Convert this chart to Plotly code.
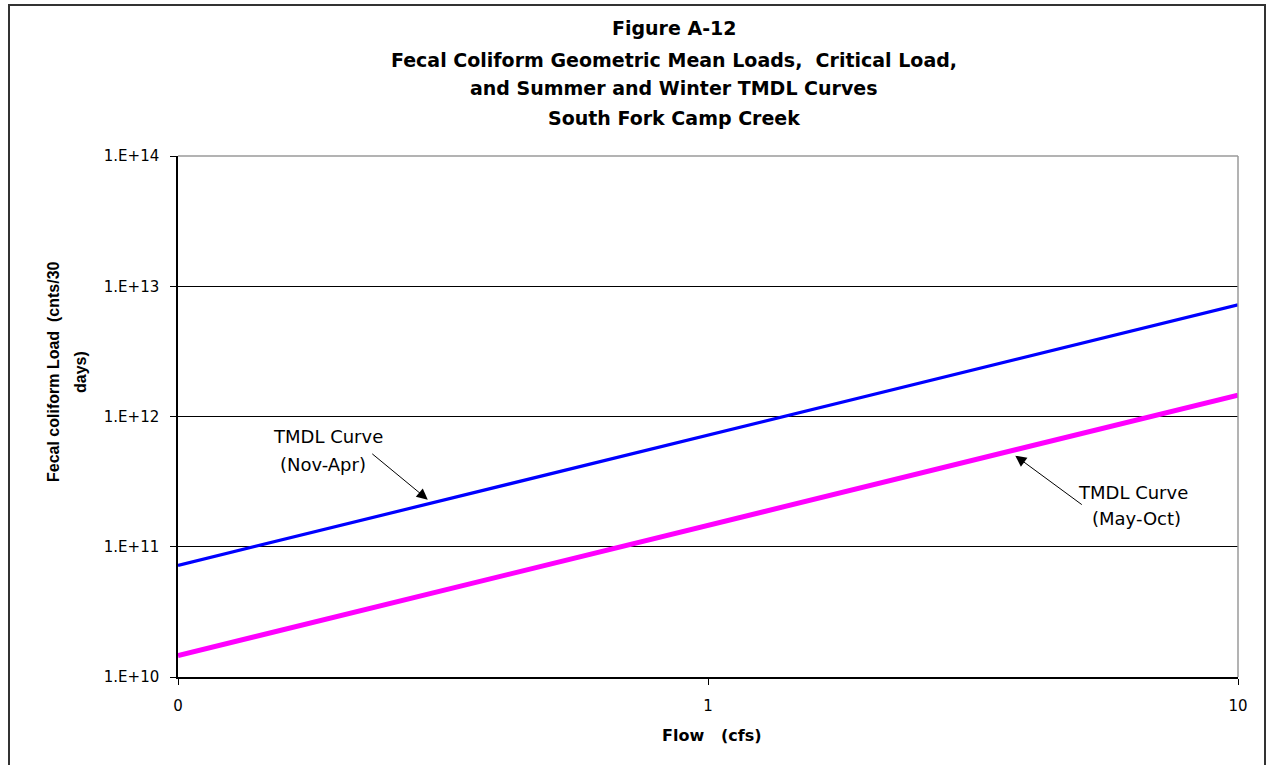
import math
import plotly.graph_objects as go

# Flow (cfs) and TMDL loads (counts / 30 days)
flow_cfs = [0.1, 1, 10]
tmdl_winter = [7.2e10, 7.2e11, 7.2e12]   # Nov-Apr
tmdl_summer = [1.46e10, 1.46e11, 1.46e12]  # May-Oct

x_tick_vals = [0.1, 1, 10]
x_tick_text = ["0", "1", "10"]
y_tick_vals = [1e10, 1e11, 1e12, 1e13, 1e14]
y_tick_text = ["1.E+10", "1.E+11", "1.E+12", "1.E+13", "1.E+14"]

title_lines = [
    "Figure A-12",
    "Fecal Coliform Geometric Mean Loads,\u00a0\u00a0Critical Load,",
    "and Summer and Winter TMDL Curves",
    "South Fork Camp Creek",
]

W, H = 1270, 765
L, R, T, B = 178, 1238, 156, 677


def px(x):
    return (x - L) / (R - L)


def py(y):
    return (B - y) / (B - T)


TXT = "DejaVu Sans"
BOLD = "Liberation Sans, Arial, sans-serif"

fig = go.Figure()
fig.add_trace(go.Scatter(x=flow_cfs, y=tmdl_winter, mode="lines",
                         line=dict(color="#0000FF", width=3.2), name="TMDL Curve (Nov-Apr)"))
fig.add_trace(go.Scatter(x=flow_cfs, y=tmdl_summer, mode="lines",
                         line=dict(color="#FF00FF", width=5), name="TMDL Curve (May-Oct)"))

annotations = []
# title, one line per annotation
for text, yc in zip(title_lines, [28, 60, 88, 118]):
    annotations.append(dict(text="<b>%s</b>" % text, xref="paper", yref="paper",
                            x=px(674), y=py(yc), xanchor="center", yanchor="middle",
                            showarrow=False, font=dict(family="DejaVu Sans", size=19, color="black")))

# y-axis title (two rotated lines)
annotations.append(dict(text="<b>Fecal coliform Load\u00a0\u00a0(cnts/30</b>", xref="paper", yref="paper",
                        x=px(53), y=py(372), xanchor="center", yanchor="middle", textangle=-90,
                        showarrow=False, font=dict(family=BOLD, size=16, color="black")))
annotations.append(dict(text="<b>days)</b>", xref="paper", yref="paper",
                        x=px(80), y=py(372), xanchor="center", yanchor="middle", textangle=-90,
                        showarrow=False, font=dict(family=BOLD, size=16, color="black")))
# x-axis title
annotations.append(dict(text="<b>Flow\u00a0\u00a0\u00a0(cfs)</b>", xref="paper", yref="paper",
                        x=px(712), y=py(735), xanchor="center", yanchor="middle",
                        showarrow=False, font=dict(family="DejaVu Sans", size=16, color="black")))

# curve labels
for text, xc, yc in [("TMDL Curve", 328, 436), ("(Nov-Apr)", 323, 464),
                     ("TMDL Curve", 1133, 492), ("(May-Oct)", 1136, 518)]:
    annotations.append(dict(text=text, xref="paper", yref="paper", x=px(xc), y=py(yc),
                            xanchor="center", yanchor="middle", showarrow=False,
                            font=dict(family=TXT, size=18, color="black")))

# leader arrows pointing at each curve
for fx, load, ax, ay in [(0.296, 2.3e11, -57, -47), (3.80, 5.0e11, 68, 50)]:
    annotations.append(dict(text="", x=math.log10(fx), y=math.log10(load), xref="x", yref="y",
                            showarrow=True, arrowhead=2, arrowsize=2.2, arrowwidth=1,
                            arrowcolor="black", ax=ax, ay=ay, standoff=0))

shapes = [
    # plot-area top and right borders
    dict(type="line", xref="paper", yref="paper", x0=0, x1=1, y0=1, y1=1,
         line=dict(color="#9a9a9a", width=1.5), layer="above"),
    dict(type="line", xref="paper", yref="paper", x0=1, x1=1, y0=0, y1=1,
         line=dict(color="#9a9a9a", width=1.5), layer="above"),
    # outer chart frame
    dict(type="rect", xref="paper", yref="paper", x0=px(9), x1=px(1265), y0=py(770), y1=py(5),
         line=dict(color="#333333", width=2), fillcolor="rgba(0,0,0,0)", layer="above"),
]

fig.update_layout(
    width=W, height=H,
    margin=dict(l=L, r=W - R, t=T, b=H - B, autoexpand=False),
    paper_bgcolor="white", plot_bgcolor="white",
    showlegend=False,
    annotations=annotations,
    shapes=shapes,
    xaxis=dict(type="log", range=[-1, 1], tickvals=x_tick_vals, ticktext=x_tick_text,
               ticks="outside", ticklen=6, tickcolor="black", tickwidth=1,
               showline=True, linecolor="black", linewidth=1.5,
               showgrid=False, zeroline=False, ticklabelstandoff=8,
               tickfont=dict(family=TXT, size=15, color="black")),
    yaxis=dict(type="log", range=[10, 14], tickvals=y_tick_vals, ticktext=y_tick_text,
               ticks="outside", ticklen=6, tickcolor="black", tickwidth=1,
               showline=True, linecolor="black", linewidth=1.5,
               showgrid=True, gridcolor="black", gridwidth=1, zeroline=False,
               ticklabelstandoff=8,
               tickfont=dict(family=TXT, size=15, color="black")),
)

fig.write_html("out.html")
